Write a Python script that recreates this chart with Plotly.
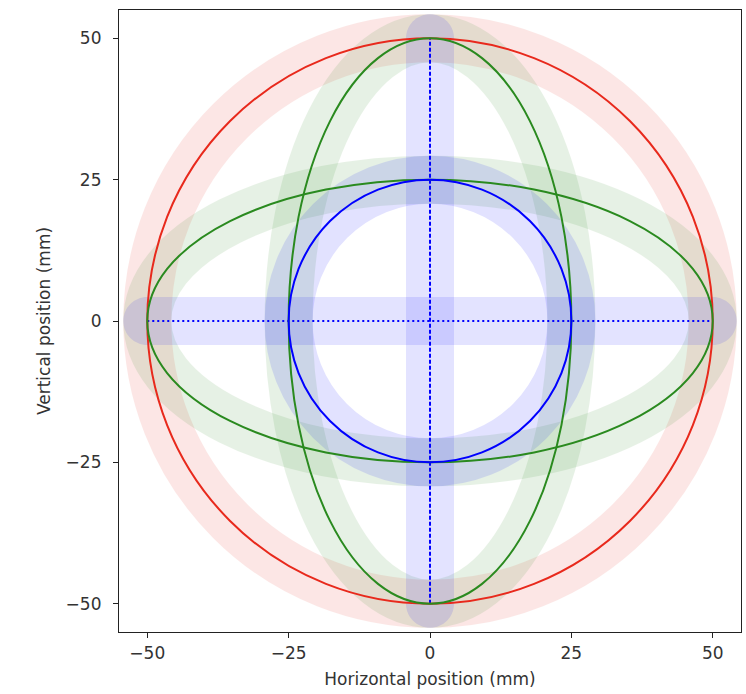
import plotly.graph_objects as go

# Ellipses centred on the origin: semi-axes (mm) and colours, drawn in this order
ring_names = ["outer circle", "wide ellipse", "tall ellipse", "inner circle"]
ring_rx = [50, 50, 25, 25]
ring_ry = [50, 25, 50, 25]
ring_colors = ["#e8291c", "#2a8a1f", "#2a8a1f", "#0000ff"]

# Cross-hair segments through the origin (mm)
cross_x_h = [-50, 50]
cross_y_h = [0, 0]
cross_x_v = [0, 0]
cross_y_v = [-50, 50]
cross_color = "#0000ff"

tick_vals = [-50, -25, 0, 25, 50]
tick_text = ["\u221250", "\u221225", "0", "25", "50"]

AXIS_RANGE = [-55, 55]
PLOT_PX = 622                      # side of the square plotting area in pixels
BAND_WIDTH = 48                    # pixels
BAND_ALPHA = 0.11
FONT = "DejaVu Sans"

fig = go.Figure()
shapes = []


def rgba(hex_color, alpha):
    h = hex_color.lstrip("#")
    r, g, b = int(h[0:2], 16), int(h[2:4], 16), int(h[4:6], 16)
    return f"rgba({r},{g},{b},{alpha})"


def stadium_path(x0, y0, x1, y1, r):
    """Closed path of a segment thickened by r with round caps (data units)."""
    k = 0.5523 * r
    if y0 == y1:  # horizontal
        a, b, y = min(x0, x1), max(x0, x1), y0
        return (f"M {a},{y - r} L {b},{y - r} "
                f"C {b + k},{y - r} {b + r},{y - k} {b + r},{y} "
                f"C {b + r},{y + k} {b + k},{y + r} {b},{y + r} "
                f"L {a},{y + r} "
                f"C {a - k},{y + r} {a - r},{y + k} {a - r},{y} "
                f"C {a - r},{y - k} {a - k},{y - r} {a},{y - r} Z")
    a, b, x = min(y0, y1), max(y0, y1), x0
    return (f"M {x - r},{a} L {x - r},{b} "
            f"C {x - r},{b + k} {x - k},{b + r} {x},{b + r} "
            f"C {x + k},{b + r} {x + r},{b + k} {x + r},{b} "
            f"L {x + r},{a} "
            f"C {x + r},{a - k} {x + k},{a - r} {x},{a - r} "
            f"C {x - k},{a - r} {x - r},{a - k} {x - r},{a} Z")


# wide translucent bands behind every ellipse
for rx, ry, col in zip(ring_rx, ring_ry, ring_colors):
    shapes.append(dict(type="circle", xref="x", yref="y",
                       x0=-rx, x1=rx, y0=-ry, y1=ry,
                       line=dict(color=col, width=BAND_WIDTH),
                       opacity=BAND_ALPHA, layer="below"))

# translucent bands along the cross-hair, with round ends
half_band = (BAND_WIDTH / 2) * (AXIS_RANGE[1] - AXIS_RANGE[0]) / PLOT_PX
for xs, ys in [(cross_x_h, cross_y_h), (cross_x_v, cross_y_v)]:
    shapes.append(dict(type="path", xref="x", yref="y",
                       path=stadium_path(xs[0], ys[0], xs[1], ys[1], half_band),
                       fillcolor=rgba(cross_color, BAND_ALPHA),
                       line=dict(width=0), layer="below"))

# thin ellipse outlines
for rx, ry, col in zip(ring_rx, ring_ry, ring_colors):
    shapes.append(dict(type="circle", xref="x", yref="y",
                       x0=-rx, x1=rx, y0=-ry, y1=ry,
                       line=dict(color=col, width=2), layer="above"))

# dotted / dashed cross-hair lines
fig.add_trace(go.Scatter(x=cross_x_h, y=cross_y_h, mode="lines",
                         line=dict(color=cross_color, width=2, dash="2px,3px"),
                         hoverinfo="skip", showlegend=False))
fig.add_trace(go.Scatter(x=cross_x_v, y=cross_y_v, mode="lines",
                         line=dict(color=cross_color, width=2, dash="4px,2px"),
                         hoverinfo="skip", showlegend=False))

axis_common = dict(
    range=AXIS_RANGE, tickvals=tick_vals, ticktext=tick_text,
    showgrid=False, zeroline=False,
    showline=True, mirror=True, linecolor="#222222", linewidth=1.2,
    ticks="outside", ticklen=5, tickwidth=1.2, tickcolor="#222222",
    tickfont=dict(family=FONT, size=17, color="#333333"),
)

fig.update_layout(
    width=746, height=694,
    margin=dict(l=119, r=5, t=10, b=62),
    paper_bgcolor="white", plot_bgcolor="white",
    shapes=shapes,
    xaxis=dict(axis_common,
               title=dict(text="Horizontal position (mm)",
                          font=dict(family=FONT, size=17, color="#333333"),
                          standoff=11)),
    yaxis=dict(axis_common, scaleanchor="x", scaleratio=1,
               ticklabelstandoff=8,
               title=dict(text="Vertical position (mm)",
                          font=dict(family=FONT, size=17, color="#333333"),
                          standoff=10)),
)

fig.write_html("out.html")
